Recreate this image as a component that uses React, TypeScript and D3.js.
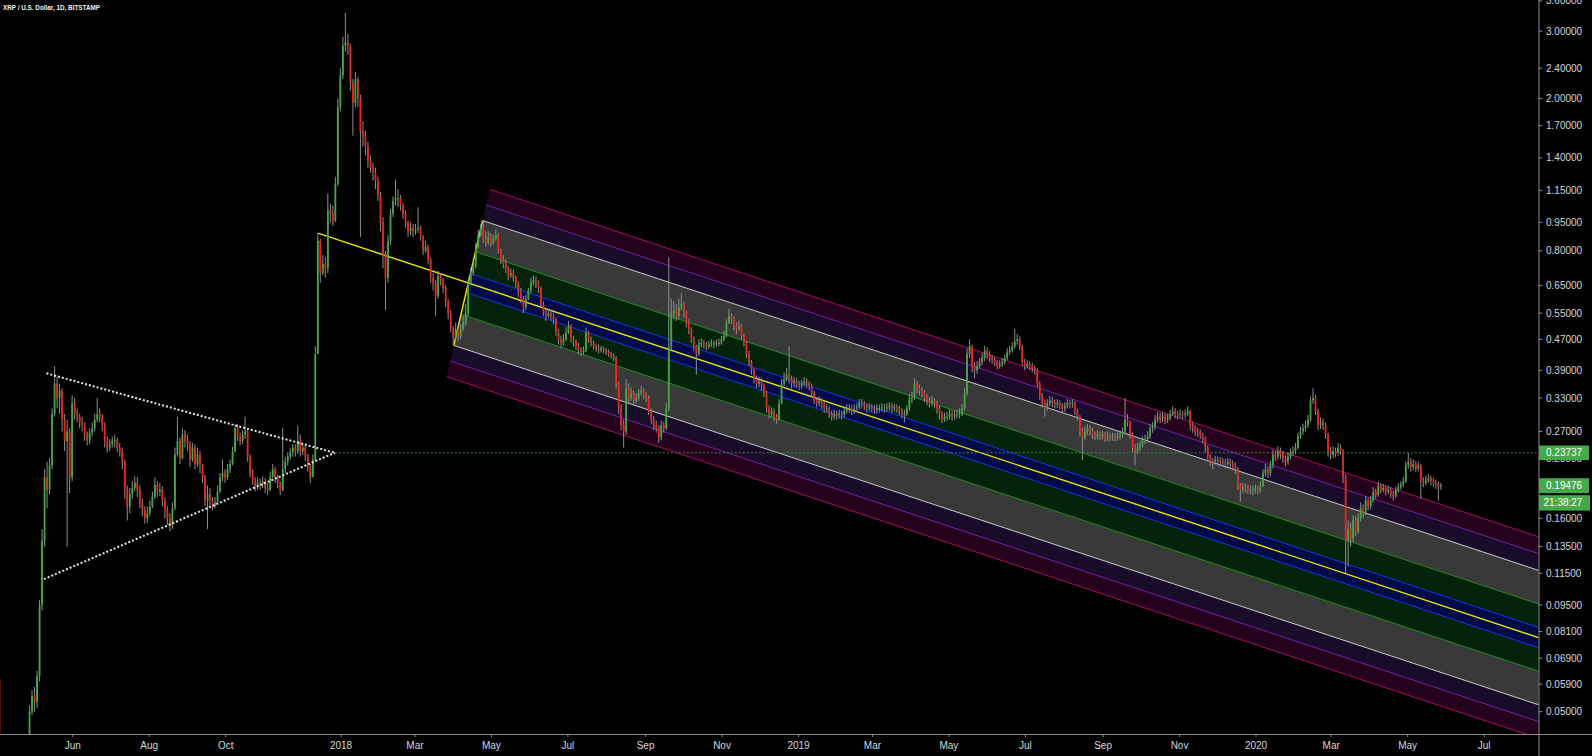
import React from "react";
import * as d3 from "d3";

const W = 1592;
const H = 756;
const PLOT_R = 1538.5;
const PLOT_B = 734;
const DAY = 86400000;

const titleText = "XRP / U.S. Dollar, 1D, BITSTAMP";

// 2-day candles starting 2017-04-01 (prices in thousandths of USD)
const candleStart = Date.UTC(2017, 3, 1);
const candleDays = 2;
const firstOpenMilli = 12;
const closeMilli = [
  61,40,36,33,32,31,30,31,32,33,
  32,31,34,50,55,53,62,95,140,205,
  190,220,300,360,330,345,290,255,270,205,
  320,300,295,285,280,265,256,268,275,290,
  300,295,280,255,245,250,255,256,245,240,
  225,190,172,185,192,198,190,175,168,160,
  165,172,182,196,188,190,178,168,160,153,
  170,235,255,230,265,255,250,228,245,222,
  235,220,205,178,185,178,172,176,188,205,
  210,205,215,222,240,275,262,255,265,270,
  232,210,200,195,198,196,200,192,190,205,
  215,205,198,190,215,225,232,238,245,240,
  255,240,245,232,218,205,228,430,850,700,
  740,720,1020,1000,960,1200,1900,2300,2750,2800,
  2750,2200,1950,2250,2000,1650,1600,1500,1380,1320,
  1280,1220,1120,950,780,680,850,1000,1080,1100,
  1100,1050,1000,950,900,920,900,910,920,870,
  800,820,760,680,660,610,690,670,640,590,
  550,500,475,500,480,500,520,550,660,700,
  730,820,880,920,860,840,870,840,860,880,
  800,760,740,720,690,700,680,660,620,600,
  570,600,630,660,670,660,640,580,550,540,
  550,540,530,490,470,460,470,490,510,470,
  465,450,440,435,440,490,470,460,450,445,
  440,445,440,435,430,425,420,360,310,280,
  270,350,330,340,325,330,340,345,335,330,
  305,290,280,275,260,280,275,310,450,550,
  560,540,570,580,550,520,500,470,450,430,
  460,460,455,450,455,460,455,460,460,470,
  480,520,540,530,510,500,510,480,460,430,
  410,390,370,360,365,355,340,310,300,305,
  295,290,320,360,370,380,370,360,365,360,
  355,360,365,360,355,340,325,320,325,315,
  310,310,300,295,300,298,300,298,305,310,
  310,305,310,312,320,318,315,310,312,310,
  308,310,310,312,310,312,315,310,312,310,
  305,300,300,310,330,330,360,350,345,340,
  330,325,320,325,320,310,300,290,295,295,
  300,295,298,300,300,310,340,430,450,400,
  390,400,410,420,440,430,420,415,410,400,
  405,410,420,435,440,450,465,470,450,410,
  400,405,400,395,390,360,335,320,310,320,
  325,320,318,320,315,310,315,320,318,320,
  305,295,270,260,270,275,270,265,262,265,
  262,265,260,263,260,262,260,262,265,270,
  290,285,265,245,240,245,250,255,258,262,
  275,278,290,295,292,295,290,293,300,305,
  300,298,300,298,300,305,280,275,270,268,
  265,258,245,232,225,224,228,226,225,224,
  222,225,222,220,215,195,190,193,192,190,
  190,190,191,190,195,210,215,210,220,235,
  232,240,235,230,225,232,238,240,245,262,
  270,275,280,290,325,330,305,280,285,280,
  265,240,235,240,237,245,240,205,140,150,
  142,158,148,160,170,165,178,172,178,188,
  184,195,190,192,188,190,185,183,190,193,
  196,200,220,225,218,222,216,220,200,198,
  202,204,200,198,196,194,194.76,
];
const highMilli = [
  90,63,41,37,34,33,32,33,34,35,
  34,33,36,52,57,58,64,98,150,215,
  225,230,310,400,375,360,350,300,290,275,
  335,330,310,300,295,285,270,275,285,300,
  330,310,300,285,262,258,262,265,260,252,
  245,228,195,192,200,206,205,195,180,172,
  172,178,188,205,200,198,194,182,172,165,
  176,245,295,260,275,272,265,255,252,250,
  245,240,222,208,195,192,182,182,195,210,
  228,215,222,228,246,282,282,268,272,295,
  272,235,215,205,205,203,206,204,198,212,
  222,218,208,200,276,232,238,244,250,250,
  280,265,252,248,236,222,235,450,890,860,
  780,770,1130,1060,1050,1250,2000,2400,2900,3350,
  2950,2780,2250,2350,2280,2050,1750,1650,1540,1420,
  1360,1320,1250,1140,980,800,880,1030,1110,1230,
  1160,1120,1070,1020,960,950,940,940,1040,930,
  880,850,830,770,700,670,710,700,680,650,
  600,560,510,520,510,515,540,580,670,720,
  760,840,910,940,960,900,900,890,880,910,
  890,810,780,760,730,720,715,690,665,640,
  610,615,640,680,690,685,670,645,590,565,
  565,560,550,535,500,480,485,505,525,515,
  480,470,460,448,450,505,495,478,466,458,
  455,452,450,446,442,436,432,425,365,318,
  290,370,360,352,345,340,348,355,350,342,
  335,310,296,288,280,288,286,320,770,600,
  590,580,600,620,590,560,530,505,478,455,
  470,472,468,462,465,470,466,470,472,480,
  495,530,565,550,540,520,525,515,485,465,
  438,415,395,378,375,372,360,345,316,312,
  310,300,328,370,385,395,450,378,375,372,
  366,368,374,372,365,360,345,332,334,330,
  322,318,315,306,308,306,308,306,312,318,
  318,316,318,320,328,328,324,320,320,318,
  316,318,317,320,318,320,322,320,318,318,
  315,310,308,316,338,342,372,366,358,352,
  346,338,332,334,330,325,315,305,302,304,
  308,306,306,308,310,318,350,445,470,455,
  410,412,420,432,452,448,438,428,422,416,
  414,420,428,445,452,462,500,485,478,455,
  418,415,412,408,402,395,365,340,326,328,
  334,332,327,328,325,320,322,328,326,328,
  324,310,298,276,278,282,280,276,270,272,
  270,271,269,270,268,268,267,268,271,276,
  330,300,288,268,250,252,256,262,265,270,
  282,286,298,304,302,304,300,300,308,314,
  311,306,308,306,308,314,308,286,280,276,
  273,268,262,248,236,230,233,232,231,230,
  229,230,229,227,224,218,198,198,197,196,
  195,195,196,195,200,215,222,219,226,242,
  240,247,245,240,234,238,244,247,252,268,
  278,283,288,298,333,350,336,310,294,292,
  285,268,246,247,245,252,250,243,208,158,
  156,163,162,165,176,174,183,181,183,193,
  191,200,198,197,195,195,193,189,194,198,
  200,205,225,237,230,228,226,225,222,205,
  207,209,207,204,202,200,198,
];
const lowMilli = [
  12,38,35,32,30,29,28,29,30,31,
  31,30,31,33,49,50,51,60,92,135,
  170,185,215,295,310,300,270,240,135,186,
  200,290,285,275,270,255,248,250,262,270,
  285,285,270,245,238,240,245,245,238,232,
  215,180,158,165,180,188,182,170,162,155,
  156,162,170,180,182,183,172,160,154,148,
  150,168,232,222,228,245,240,218,225,215,
  218,210,198,172,150,172,168,170,175,186,
  200,198,202,210,220,238,255,248,250,258,
  225,205,196,188,190,190,192,186,184,188,
  204,198,192,184,188,210,220,228,232,232,
  236,232,234,226,212,198,205,225,430,660,
  690,680,700,950,930,950,1180,1850,2250,2650,
  2600,2100,1600,1900,1900,870,1500,1420,1320,1280,
  1220,1160,1080,900,720,560,660,830,980,1050,
  1040,1020,970,920,870,880,870,880,890,850,
  780,790,740,660,630,540,600,650,620,570,
  530,490,455,470,465,470,495,510,540,650,
  690,720,810,870,840,820,830,820,830,850,
  790,740,720,700,670,680,665,640,605,585,
  550,560,595,620,650,640,620,570,540,525,
  535,525,515,480,455,445,452,465,485,460,
  450,440,430,425,428,435,460,450,442,436,
  432,434,432,428,423,418,412,350,300,272,
  245,265,320,325,318,320,325,335,328,322,
  298,282,272,268,252,256,268,272,305,440,
  530,525,530,560,535,505,485,460,438,380,
  425,448,445,440,444,448,446,450,450,455,
  465,475,515,515,495,485,495,470,450,420,
  400,380,360,350,352,345,332,302,292,294,
  287,283,288,318,355,365,360,350,352,350,
  346,348,354,350,346,332,318,312,314,308,
  302,302,293,288,290,290,292,290,293,300,
  302,298,300,303,308,310,307,302,304,302,
  300,300,302,304,302,304,306,302,304,302,
  298,292,285,296,306,320,326,340,336,332,
  322,316,312,314,310,300,290,284,286,288,
  290,288,290,292,292,296,306,335,420,385,
  372,382,395,402,412,418,410,405,400,392,
  394,398,404,414,428,434,444,455,440,400,
  390,394,390,385,380,352,326,312,295,305,
  314,312,310,311,308,302,304,310,310,311,
  298,288,262,227,256,264,263,258,256,257,
  256,257,254,255,254,255,254,255,257,260,
  266,278,258,238,220,236,240,245,250,252,
  258,268,272,285,284,286,282,284,288,296,
  292,290,292,290,292,296,272,268,263,261,
  258,251,238,226,219,215,221,220,219,218,
  216,218,216,214,209,190,177,186,187,185,
  185,184,186,185,187,193,206,204,206,216,
  226,228,229,224,219,221,228,233,235,242,
  258,265,270,276,286,318,298,272,274,272,
  258,232,228,230,231,233,234,198,115,120,
  135,139,144,146,157,160,163,168,169,176,
  180,182,186,187,184,185,181,178,181,187,
  190,193,198,216,212,214,211,212,180,193,
  195,198,195,193,191,178,190,
];

const yTickValues = [3.6, 3.0, 2.4, 2.0, 1.7, 1.4, 1.15, 0.95, 0.8, 0.65, 0.55, 0.47, 0.39, 0.33, 0.27, 0.23, 0.195, 0.16, 0.135, 0.115, 0.095, 0.081, 0.069, 0.059, 0.05];
const xTickLabels = ["Jun", "Aug", "Oct", "2018", "Mar", "May", "Jul", "Sep", "Nov", "2019", "Mar", "May", "Jul", "Sep", "Nov", "2020", "Mar", "May", "Jul"];
const xTickDates = ["2017-06-01", "2017-08-01", "2017-10-01", "2018-01-01", "2018-03-01", "2018-05-01", "2018-07-01", "2018-09-01", "2018-11-01", "2019-01-01", "2019-03-01", "2019-05-01", "2019-07-01", "2019-09-01", "2019-11-01", "2020-01-01", "2020-03-01", "2020-05-01", "2020-07-01"];

// Andrews pitchfork anchors
const pitchA = { date: "2017-12-13T12:00:00Z", price: 0.89 };
const pitchB = { date: "2018-04-24T00:00:00Z", price: 0.96 };
const pitchC = { date: "2018-04-01T00:00:00Z", price: 0.453 };
const pitchLevels = [0.15, 0.5, 1, 1.25, 1.5];
const levelLineColors = ["#1733e6", "#1f8f1f", "#cdcdcd", "#7a1fa6", "#a30f5f"];
const bandFills = ["#020b48", "#022309", "#393939", "#190b2a", "#25021b"];

// triangle
const triUpper = [{ date: "2017-05-11T00:00:00Z", price: 0.383 }, { date: "2017-12-27T00:00:00Z", price: 0.2374 }];
const triLower = [{ date: "2017-05-09T00:00:00Z", price: 0.111 }, { date: "2017-12-27T00:00:00Z", price: 0.2374 }];

const hLinePrice = 0.23737;
const hLineStart = "2017-12-27T00:00:00Z";
const lastPrice = 0.19476;
const countdown = "21:38:27";

const FONT = "'Liberation Sans', Arial, sans-serif";

export default function App() {
  const x = d3.scaleUtc()
    .domain([new Date(Date.UTC(2018, 0, 1)), new Date(Date.UTC(2020, 0, 1))])
    .range([341, 1256]);
  const y = d3.scaleLog().domain([0.05, 3]).range([711.7, 31.2]);

  const candles = closeMilli.map((c, i) => {
    const o = i === 0 ? firstOpenMilli : closeMilli[i - 1];
    const t = new Date(candleStart + (i * candleDays + 0.5) * DAY);
    return { t, o: o / 1000, c: c / 1000, h: highMilli[i] / 1000, l: lowMilli[i] / 1000 };
  });

  const P = (d: { date: string; price: number }) => [x(new Date(d.date)), y(d.price)];
  const a = P(pitchA), b = P(pitchB), c = P(pitchC);
  const m = [(b[0] + c[0]) / 2, (b[1] + c[1]) / 2];
  const dir = [m[0] - a[0], m[1] - a[1]];
  const at = (L: number, side: number[]) => [m[0] + L * (side[0] - m[0]), m[1] + L * (side[1] - m[1])];
  const ext = (p: number[]) => {
    const k = (PLOT_R + 2 - p[0]) / dir[0];
    return [p[0] + k * dir[0], p[1] + k * dir[1]];
  };
  const poly = (pts: number[][]) => pts.map((p) => p.join(",")).join(" ");

  const bands: { pts: number[][]; fill: string }[] = [];
  {
    const t0 = at(pitchLevels[0], b), b0 = at(pitchLevels[0], c);
    bands.push({ pts: [t0, ext(t0), ext(b0), b0], fill: bandFills[0] });
    for (let j = 1; j < pitchLevels.length; j++) {
      for (const side of [b, c]) {
        const p1 = at(pitchLevels[j - 1], side), p2 = at(pitchLevels[j], side);
        bands.push({ pts: [p1, ext(p1), ext(p2), p2], fill: bandFills[j] });
      }
    }
  }
  const levelLines: { p: number[]; e: number[]; color: string }[] = [];
  pitchLevels.forEach((L, j) => {
    for (const side of [b, c]) {
      const p = at(L, side);
      levelLines.push({ p, e: ext(p), color: levelLineColors[j] });
    }
  });
  const medEnd = ext(m);

  const tu = triUpper.map(P), tl = triLower.map(P);
  const hy = y(hLinePrice);
  const ly = y(lastPrice);

  return (
    <svg width={W} height={H} style={{ position: "fixed", left: 0, top: 0, display: "block" }} fontFamily={FONT}>
      <rect x={0} y={0} width={W} height={H} fill="#000" />
      <defs>
        <clipPath id="plot">
          <rect x={0} y={0} width={PLOT_R} height={PLOT_B} />
        </clipPath>
      </defs>
      <g clipPath="url(#plot)">
        {bands.map((bd, i) => (
          <polygon key={"b" + i} points={poly(bd.pts)} fill={bd.fill} />
        ))}
        {levelLines.map((ln, i) => (
          <line key={"l" + i} x1={ln.p[0]} y1={ln.p[1]} x2={ln.e[0]} y2={ln.e[1]} stroke={ln.color} strokeWidth={1} />
        ))}
        <line x1={a[0]} y1={a[1]} x2={medEnd[0]} y2={medEnd[1]} stroke="#f0e400" strokeWidth={1.4} />
        <line x1={b[0]} y1={b[1]} x2={c[0]} y2={c[1]} stroke="#f0e400" strokeWidth={1.4} />
        <line x1={x(new Date(hLineStart))} y1={hy} x2={PLOT_R} y2={hy} stroke="#3f8a3f" strokeWidth={1} strokeDasharray="2 2" />
        {candles.map((d, i) => {
          const cx = x(d.t);
          const hi = Math.max(d.h, d.o, d.c), lo = Math.min(d.l, d.o, d.c);
          const yo = y(d.o), yc = y(d.c);
          const top = Math.min(yo, yc);
          const hgt = Math.max(1, Math.abs(yo - yc));
          const up = d.c >= d.o;
          return (
            <g key={"c" + i}>
              <line x1={cx} x2={cx} y1={y(hi)} y2={y(lo)} stroke="#8e8e8e" strokeWidth={1} />
              <rect x={cx - 0.9} y={top} width={1.8} height={hgt} fill={up ? "#43a843" : "#e8261e"} />
            </g>
          );
        })}
        <line x1={tu[0][0]} y1={tu[0][1]} x2={tu[1][0]} y2={tu[1][1]} stroke="#e6e6e6" strokeWidth={2} strokeDasharray="2 2" />
        <line x1={tl[0][0]} y1={tl[0][1]} x2={tl[1][0]} y2={tl[1][1]} stroke="#e6e6e6" strokeWidth={2} strokeDasharray="2 2" />
      </g>

      <text x={3} y={10} fill="#f0f0f0" fontSize={7.5} fontWeight="bold" textLength={97} lengthAdjust="spacingAndGlyphs">{titleText}</text>

      {/* axes */}
      <line x1={0} y1={PLOT_B + 0.5} x2={W} y2={PLOT_B + 0.5} stroke="#8a8a8a" strokeWidth={1} />
      <line x1={PLOT_R + 0.5} y1={0} x2={PLOT_R + 0.5} y2={H} stroke="#8a8a8a" strokeWidth={1} />
      {xTickDates.map((ds, i) => {
        const tx = x(new Date(ds + "T00:00:00Z"));
        return (
          <g key={"xt" + i}>
            <line x1={tx} x2={tx} y1={PLOT_B} y2={PLOT_B + 3} stroke="#8a8a8a" />
            <text x={tx} y={745} fill="#d6d6d6" fontSize={10} textAnchor="middle" dominantBaseline="central">{xTickLabels[i]}</text>
          </g>
        );
      })}
      {yTickValues.map((v, i) => {
        const ty = y(v);
        return (
          <g key={"yt" + i}>
            <line x1={PLOT_R} x2={PLOT_R + 4} y1={ty} y2={ty} stroke="#8a8a8a" />
            <text x={1546} y={ty} fill="#d6d6d6" fontSize={10} dominantBaseline="central">{v.toFixed(5)}</text>
          </g>
        );
      })}
      <rect x={1539} y={hy - 7.3} width={50} height={14.6} fill="#45a849" />
      <text x={1546} y={hy} fill="#fff" fontSize={10} dominantBaseline="central">{hLinePrice.toFixed(5)}</text>
      <rect x={1539} y={ly - 7.5} width={50} height={15} fill="#45a849" />
      <text x={1546} y={ly} fill="#fff" fontSize={10} dominantBaseline="central">{lastPrice.toFixed(5)}</text>
      <rect x={1539} y={ly + 9.5} width={51} height={15.4} fill="#45a849" />
      <text x={1543.5} y={ly + 17.2} fill="#fff" fontSize={10} dominantBaseline="central">{countdown}</text>
    </svg>
  );
}
